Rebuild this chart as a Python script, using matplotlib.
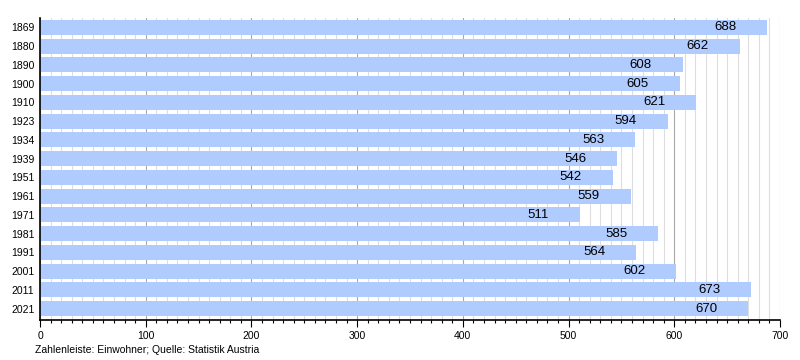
import matplotlib
matplotlib.use("Agg")
import matplotlib.pyplot as plt
from matplotlib.ticker import MultipleLocator
from matplotlib.transforms import offset_copy

plt.rcParams['font.family'] = ['Liberation Sans', 'DejaVu Sans']

years = ["1869", "1880", "1890", "1900", "1910", "1923", "1934", "1939", "1951",
         "1961", "1971", "1981", "1991", "2001", "2011", "2021"]
values = [688, 662, 608, 605, 621, 594, 563, 546, 542, 559, 511, 585, 564, 602, 673, 670]
source_text = "Zahlenleiste: Einwohner; Quelle: Statistik Austria"

fig = plt.figure(figsize=(8, 3.6), dpi=100)
ax = fig.add_axes([40/800, 1-320/360, 740/800, 302/360])

pos = list(range(len(years)))
ax.barh(pos, values, height=0.8, color="#b0ccff", zorder=2)
ax.set_ylim(len(years)-0.4, -0.5)
ax.set_xlim(0, 700)
ax.set_yticks(pos)
ax.set_yticklabels(years, fontsize=7.5)
ax.tick_params(axis='y', length=0, pad=4)

ax.xaxis.set_major_locator(MultipleLocator(100))
ax.xaxis.set_minor_locator(MultipleLocator(10))
ax.tick_params(axis='x', which='major', length=5, width=0.8, labelsize=7.5, pad=3, direction='out')
ax.tick_params(axis='x', which='minor', length=2.5, width=0.8, direction='out')
ax.grid(axis='x', which='minor', color='#dedede', linewidth=0.8, zorder=0)
ax.grid(axis='x', which='major', color='#a8a8a8', linewidth=0.8, zorder=0)
ax.set_axisbelow(True)

for s in ['top', 'right']:
    ax.spines[s].set_visible(False)
for s in ['left', 'bottom']:
    ax.spines[s].set_color('black')
    ax.spines[s].set_linewidth(1.2)
    ax.spines[s].set_zorder(3)

trans = offset_copy(ax.transData, fig=fig, x=-31, y=0, units='dots')
for p, v in zip(pos, values):
    ax.text(v, p, str(v), transform=trans, ha='right', va='center', fontsize=9.5, color='black', zorder=4)

fig.text(35/800, 1-350/360, source_text, fontsize=7.5, ha='left', va='center')

fig.savefig("out.png", dpi=100)
